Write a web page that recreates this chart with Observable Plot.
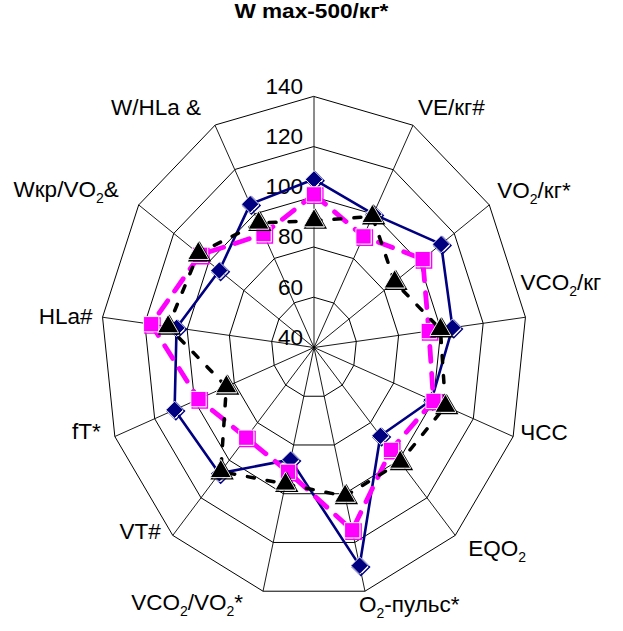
<!DOCTYPE html>
<html>
<head>
<meta charset="utf-8">
<script src="https://cdn.jsdelivr.net/npm/d3@7"></script>
<script src="https://cdn.jsdelivr.net/npm/@observablehq/plot@0.6"></script>
<style>
  html, body { margin: 0; padding: 0; background: #fff; }
  #title { height: 36px; line-height: 36px; text-align: center; font: bold 19.5px "Liberation Sans", Arial, sans-serif; color: #000; }
  #title span { display: inline-block; transform: scaleX(1.16); }
</style>
</head>
<body>
<div id="title"><span></span></div>
<div id="chart"></div>
<script>
// Axis names, clockwise from the top spoke (the top one doubles as the chart title)
const categories = [
  "W max-500/кг*", "VE/кг#", "VO2/кг*", "VCO2/кг", "ЧСС", "EQO2", "O2-пульс*",
  "VCO2/VO2*", "VT#", "fT*", "HLa#", "Wкр/VO2&", "W/HLa &"
];

// Three series, one value per axis
const seriesNavy    = [107, 100, 112.5, 105.5, 99, 87, 129.5, 86, 107, 110, 105, 94, 104.5];
const seriesMagenta = [101, 90, 102, 94.3, 100, 94.5, 115, 91, 88, 98, 117, 105, 91];
const seriesBlack   = [90.5, 99, 86, 99.8, 106, 101, 101, 96, 106, 84, 109, 106, 96];

// Radial axis
const radialTicks = [40, 60, 80, 100, 120, 140];

// Label placement around the outer ring: text anchor and pixel nudge
const labelLayout = [
  null,
  {anchor: "start", dx: 5, dy: -17},
  {anchor: "start", dx: 8, dy: -14},
  {anchor: "start", dx: -5, dy: -34},
  {anchor: "start", dx: 7, dy: -4},
  {anchor: "start", dx: 13, dy: 13},
  {anchor: "start", dx: -6, dy: 14},
  {anchor: "end", dx: -20, dy: 12},
  {anchor: "end", dx: -12, dy: -4},
  {anchor: "end", dx: -14, dy: -5},
  {anchor: "end", dx: -10, dy: 0},
  {anchor: "end", dx: -20, dy: -15},
  {anchor: "end", dx: -14, dy: -17}
];

const n = categories.length;
const rMin = radialTicks[0], rMax = radialTicks[radialTicks.length - 1];
const radius = d3.scaleLinear().domain([rMin, rMax]).range([0, 100]);
const angle = i => (2 * Math.PI * i) / n;
const polar = (i, v) => ({x: radius(v) * Math.sin(angle(i)), y: radius(v) * Math.cos(angle(i))});

const points = values => values.map((v, i) => ({i, v, ...polar(i, v)}));

const rings = radialTicks.slice(1).flatMap(t => d3.range(n).map(i => ({t, ...polar(i, t)})));
const spokes = d3.range(n).map(i => ({i, ...polar(i, rMax)}));

const font = "Liberation Sans, Arial, sans-serif";

function seriesMarks(values, color, lineOpts, symbol, r) {
  const pts = points(values);
  return [
    Plot.line(pts, {x: "x", y: "y", curve: "linear-closed", stroke: color, ...lineOpts}),
    Plot.dot(pts, {x: "x", y: "y", symbol, r, fill: "none", stroke: color, strokeWidth: 1.4, dx: 1.3, dy: 1.3}),
    Plot.dot(pts, {x: "x", y: "y", symbol, r, fill: color, stroke: "white", strokeWidth: 0.9})
  ];
}

const labelMarks = d3.range(1, n).map(i => {
  const L = labelLayout[i];
  return Plot.text([spokes[i]], {
    x: "x", y: "y", text: () => categories[i],
    textAnchor: L.anchor, dx: L.dx, dy: L.dy, fontSize: 22.5, fill: "black"
  });
});

const chart = Plot.plot({
  width: 623,
  height: 595,
  marginLeft: 100.5,
  marginRight: 96.5,
  marginTop: 60,
  marginBottom: 33,
  x: {domain: [-100, 100], axis: null},
  y: {domain: [-100, 100], axis: null},
  style: {fontFamily: font, background: "white", color: "black"},
  marks: [
    Plot.line(rings, {x: "x", y: "y", z: "t", curve: "linear-closed", stroke: "black", strokeWidth: 1}),
    Plot.link(spokes, {x1: () => 0, y1: () => 0, x2: "x", y2: "y", stroke: "black", strokeWidth: 0.9}),
    Plot.text(radialTicks, {
      x: () => 0, y: d => radius(d), text: d => String(d),
      textAnchor: "end", dx: -11, dy: -10, fontSize: 22.5, fill: "black"
    }),
    ...labelMarks,
    ...seriesMarks(seriesNavy, "#000080", {strokeWidth: 2.6}, "diamond2", 7.8),
    ...seriesMarks(seriesMagenta, "#FF00FF", {strokeWidth: 4.8, strokeDasharray: "15,12"}, "square", 8.6),
    ...seriesMarks(seriesBlack, "#000000", {strokeWidth: 3.5, strokeDasharray: "7,13"}, "triangle", 7.8)
  ]
});

// Chemical subscripts: the "2" after O is set lower and smaller
chart.querySelectorAll("text").forEach(t => {
  const s = t.textContent;
  if (!/O2/.test(s)) return;
  t.textContent = "";
  const ns = "http://www.w3.org/2000/svg";
  s.split(/(?<=O)2/).forEach((part, k) => {
    if (k > 0) {
      const sub = document.createElementNS(ns, "tspan");
      sub.setAttribute("dy", "6");
      sub.setAttribute("font-size", "14");
      sub.textContent = "2";
      t.appendChild(sub);
    }
    const rest = document.createElementNS(ns, "tspan");
    if (k > 0) rest.setAttribute("dy", "-6");
    rest.textContent = part;
    t.appendChild(rest);
  });
});

document.querySelector("#title span").textContent = categories[0];
document.getElementById("chart").appendChild(chart);
</script>
</body>
</html>
